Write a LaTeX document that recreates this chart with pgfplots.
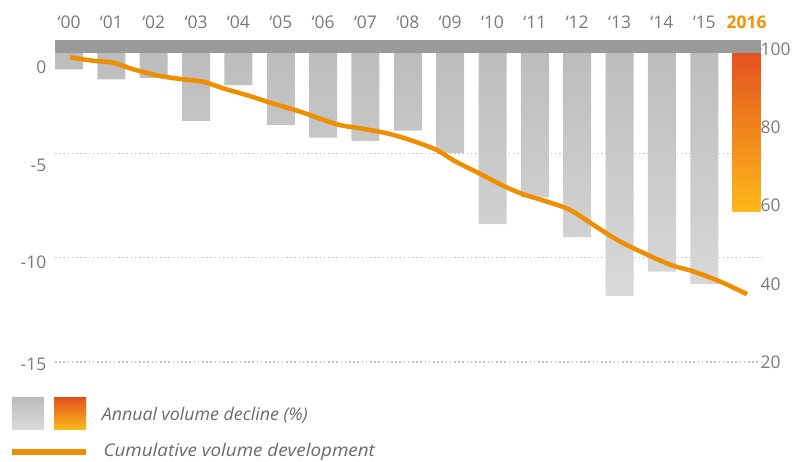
\documentclass[border=0pt]{standalone}
\usepackage{graphicx}
\usepackage{pgfplots}
\pgfplotsset{compat=1.18}
\usepackage{fontspec}
\setmainfont{Open Sans}
\definecolor{tickgray}{HTML}{7A7A7A}
\definecolor{leggray}{HTML}{6A6A6A}
\definecolor{bandgray}{HTML}{9A9A9A}
\definecolor{bartop}{HTML}{BCBCBC}
\definecolor{barbot}{HTML}{D9D9D9}
\definecolor{redor}{HTML}{E3501F}
\definecolor{yellor}{HTML}{FDB91A}
\definecolor{lineor}{HTML}{EE8E00}
\definecolor{yearor}{HTML}{F39200}
\definecolor{gridgray}{HTML}{C4C4C4}
\begin{document}
\begin{tikzpicture}
\path[use as bounding box] (-55bp,-99.9bp) rectangle (740bp,362.1bp);
\begin{axis}[
  at={(0,0)}, anchor=south west,
  scale only axis, width=706bp, height=322.1bp,
  xmin=-0.331, xmax=16.34, ymin=-15, ymax=0.43,
  axis line style={draw=none}, major tick length=0pt,
  xtick={0,...,16}, xticklabel pos=upper,
  xticklabels={‘00,‘01,‘02,‘03,‘04,‘05,‘06,‘07,‘08,‘09,‘10,‘11,‘12,‘13,‘14,‘15,{\color{yearor}\bfseries 2016}},
  xticklabel style={anchor=base, yshift=11bp, font=\fontsize{17.5}{20}\selectfont, text=tickgray},
  ytick={-15,-10,-5,0},
  yticklabels={\raisebox{-8.2bp}{-15},\raisebox{-11bp}{-10},\raisebox{-18bp}{-5},\raisebox{-24.3bp}{0}},
  yticklabel style={anchor=base east, xshift=-5.2bp, font=\fontsize{17.5}{20}\selectfont, text=tickgray},
  ymajorgrids, grid style={gridgray, line width=1.3bp, dash pattern=on 1.6bp off 2.6bp},
]
\addplot[ybar, bar width=28bp, bar shift=0pt, draw=none, top color=bartop, bottom color=barbot]
  coordinates {(0,-0.98) (1,-1.46) (2,-1.38) (3,-3.44) (4,-1.73) (5,-3.64) (6,-4.25) (7,-4.40)
               (8,-3.91) (9,-4.98) (10,-8.39) (11,-7.11) (12,-9.01) (13,-11.83) (14,-10.67) (15,-11.27)};
\addplot[ybar, bar width=28bp, bar shift=0pt, draw=none, top color=redor, bottom color=yellor]
  coordinates {(16,-7.80)};
\fill[bandgray] (axis cs:-0.331,0.43) rectangle (axis cs:16.34,-0.18);
\end{axis}
\begin{axis}[
  at={(0,0)}, anchor=south west,
  scale only axis, width=706bp, height=322.1bp,
  xmin=-0.331, xmax=16.34, ymin=20, ymax=102.293,
  hide x axis, axis y line*=right, y axis line style={draw=none}, major tick length=0pt,
  ytick={20,40,60,80,100}, yticklabels={20,40,60,80,100},
  yticklabel style={anchor=west, xshift=-3.8bp, font=\fontsize{17.5}{20}\selectfont, text=tickgray},
]
\addplot[lineor, line width=4.5bp, smooth, tension=0.5] coordinates {
  (0.02,97.86) (0.57,96.99) (1.05,96.48) (1.52,94.80) (2.15,93.09) (2.70,92.24) (3.17,91.63)
  (3.64,89.95) (4.27,87.98) (4.75,86.28) (5.46,83.98) (6.32,80.77) (6.87,79.74) (7.50,78.47)
  (8.05,76.76) (8.68,74.21) (9.08,71.53) (9.71,68.09) (10.26,65.02) (10.73,62.86) (11.28,61.02)
  (11.83,58.90) (12.38,55.07) (12.94,51.25) (13.49,48.26) (14.20,44.87) (14.74,43.16)
  (15.37,40.61) (16.01,37.37)};
\end{axis}
\shade[top color=bartop, bottom color=barbot] (-43bp,-34.9bp) rectangle (-11bp,-66.9bp);
\shade[top color=redor, bottom color=yellor] (-1bp,-34.9bp) rectangle (31bp,-66.9bp);
\draw[lineor, line width=6bp] (-43bp,-89.6bp) -- (31bp,-89.6bp);
\node[anchor=base west, inner sep=0pt, text=leggray, font=\itshape\fontsize{17.5}{20}\selectfont] at (46.7bp,-58.6bp) {\scalebox{1.02}[1]{Annual volume decline (\%)}};
\node[anchor=base west, inner sep=0pt, text=leggray, font=\itshape\fontsize{17.5}{20}\selectfont] at (48.3bp,-93.9bp) {\scalebox{1.08}[1]{Cumulative volume development}};
\end{tikzpicture}
\end{document}
